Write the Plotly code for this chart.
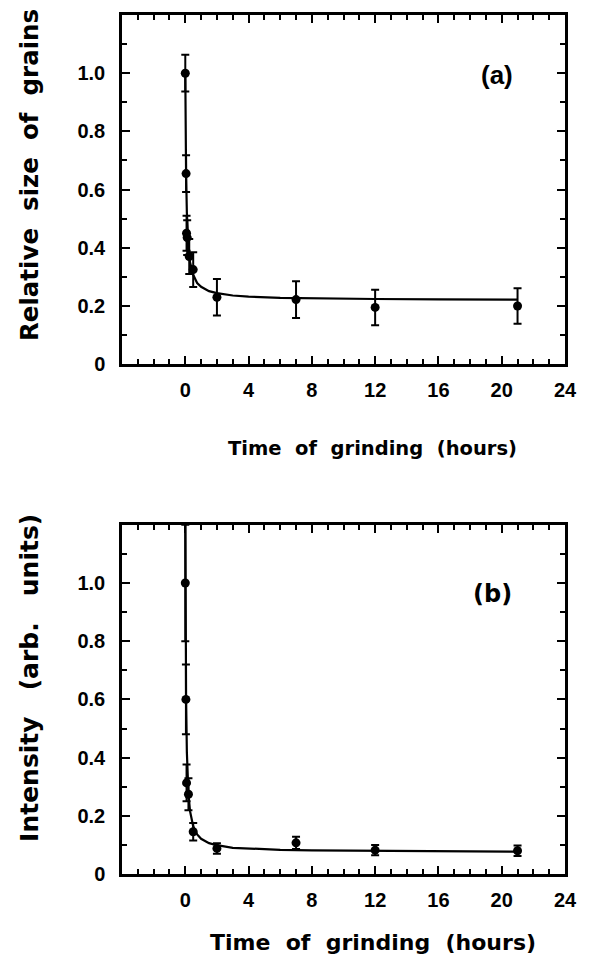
import plotly.graph_objects as go

# Panel (a): relative grain size vs. grinding time
size_time = [0, 0.05, 0.08, 0.12, 0.25, 0.5, 2, 7, 12, 21]
size_value = [1.0, 0.655, 0.45, 0.435, 0.37, 0.325, 0.23, 0.222, 0.195, 0.2]
size_error = [0.063, 0.063, 0.06, 0.06, 0.06, 0.06, 0.063, 0.063, 0.061, 0.061]

# Fitted decay curve for panel (a)
size_fit_time = [0, 0.02, 0.05, 0.1, 0.2, 0.3, 0.5, 0.75, 1, 1.5, 2, 3, 4, 6, 8, 12, 16, 21]
size_fit_value = [1.0, 0.80, 0.655, 0.52, 0.405, 0.35, 0.307, 0.279, 0.266, 0.251,
                  0.244, 0.236, 0.232, 0.228, 0.226, 0.224, 0.223, 0.222]

# Panel (b): intensity vs. grinding time
int_time = [0, 0.04, 0.08, 0.2, 0.5, 2, 7, 12, 21]
int_value = [1.0, 0.6, 0.313, 0.274, 0.145, 0.088, 0.107, 0.082, 0.080]
int_error = [0.2, 0.12, 0.063, 0.055, 0.03, 0.018, 0.021, 0.018, 0.018]

# Fitted decay curve for panel (b)
int_fit_time = [0, 0.02, 0.05, 0.1, 0.2, 0.3, 0.5, 0.75, 1, 1.5, 2, 3, 4, 6, 8, 12, 16, 21]
int_fit_value = [1.27, 0.875, 0.608, 0.418, 0.275, 0.216, 0.164, 0.136, 0.121, 0.106,
                 0.099, 0.090, 0.087, 0.083, 0.081, 0.079, 0.078, 0.077]

x_ticks = [0, 4, 8, 12, 16, 20, 24]
y_ticks = [0, 0.2, 0.4, 0.6, 0.8, 1.0]
y_tick_text = ["0", "0.2", "0.4", "0.6", "0.8", "1.0"]

BLACK = "black"
SANS = "Liberation Sans, Arial, sans-serif"
WIDE = "DejaVu Sans, sans-serif"
TICK_FONT = dict(family=SANS, size=20, color=BLACK, weight="bold")

fig = go.Figure()


def add_panel(t, v, e, ft, fv, xa, ya):
    fig.add_trace(go.Scatter(x=ft, y=fv, mode="lines", xaxis=xa, yaxis=ya,
                             line=dict(color=BLACK, width=2.2), showlegend=False,
                             hoverinfo="skip"))
    fig.add_trace(go.Scatter(x=t, y=v, mode="markers", xaxis=xa, yaxis=ya,
                             marker=dict(color=BLACK, size=9),
                             error_y=dict(type="data", array=e, color=BLACK,
                                          thickness=2, width=4),
                             showlegend=False))


add_panel(size_time, size_value, size_error, size_fit_time, size_fit_value, "x", "y")
add_panel(int_time, int_value, int_error, int_fit_time, int_fit_value, "x2", "y2")

W, H = 589, 971
ML, MR, MT, MB = 122, 17, 13, 97
pw = W - ML - MR
ph = H - MT - MB


def px_x(px):
    return (px - ML) / pw


def px_y(py):
    return (H - MB - py) / ph


top_dom = [px_y(363), 1.0]
bot_dom = [0.0, px_y(524)]

xaxis_common = dict(
    range=[-4, 24], tickvals=x_ticks, ticks="inside", ticklen=8, tickwidth=2,
    tickcolor=BLACK, showline=True, linecolor=BLACK, linewidth=2.5, mirror="ticks",
    showgrid=False, zeroline=False, tickfont=TICK_FONT, ticklabelstandoff=6,
    minor=dict(dtick=1, tick0=0, ticks="inside", ticklen=5, tickwidth=2, tickcolor=BLACK,
               showgrid=False),
)
yaxis_common = dict(
    range=[0, 1.2], tickvals=y_ticks, ticktext=y_tick_text, ticks="inside", ticklen=8,
    tickwidth=2, tickcolor=BLACK, showline=True, linecolor=BLACK, linewidth=2.5,
    mirror="ticks", showgrid=False, zeroline=False, tickfont=TICK_FONT,
    ticklabelstandoff=10,
    minor=dict(dtick=0.1, tick0=0, ticks="inside", ticklen=5, tickwidth=2, tickcolor=BLACK,
               showgrid=False),
)

fig.update_layout(
    width=W, height=H,
    margin=dict(l=ML, r=MR, t=MT, b=MB),
    paper_bgcolor="white", plot_bgcolor="white",
    xaxis=dict(domain=[0, 1], anchor="y", **xaxis_common),
    yaxis=dict(domain=top_dom, anchor="x", **yaxis_common),
    xaxis2=dict(domain=[0, 1], anchor="y2", **xaxis_common),
    yaxis2=dict(domain=bot_dom, anchor="x2", **yaxis_common),
)


def spaced(words, gap):
    return ("\u00a0" * gap).join(words)


annotations = [
    dict(text=spaced(["Time", "of", "grinding", "(hours)"], 2), x=px_x(376), y=px_y(448),
         size=19.5, angle=0),
    dict(text=spaced(["Time", "of", "grinding", "(hours)"], 2), x=px_x(377), y=px_y(943),
         size=22, angle=0),
    dict(text=spaced(["Relative", "size", "of", "grains"], 2), x=px_x(28), y=px_y(173),
         size=24.5, angle=-90),
    dict(text=spaced(["Intensity", "(arb.", "units)"], 3), x=px_x(28), y=px_y(677),
         size=25, angle=-90),
]
for a in annotations:
    fig.add_annotation(xref="paper", yref="paper", showarrow=False,
                       xanchor="center", yanchor="middle", text=a["text"],
                       x=a["x"], y=a["y"], textangle=a["angle"],
                       font=dict(family=WIDE, size=a["size"], color=BLACK, weight="bold"))

fig.add_annotation(xref="x", yref="y", x=19.7, y=0.994, text="(a)", showarrow=False,
                   font=dict(family=SANS, size=26, color=BLACK, weight="bold"))
fig.add_annotation(xref="x2", yref="y2", x=19.4, y=0.963, text="(b)", showarrow=False,
                   font=dict(family=WIDE, size=24, color=BLACK, weight="bold"))

fig.write_html("out.html")
